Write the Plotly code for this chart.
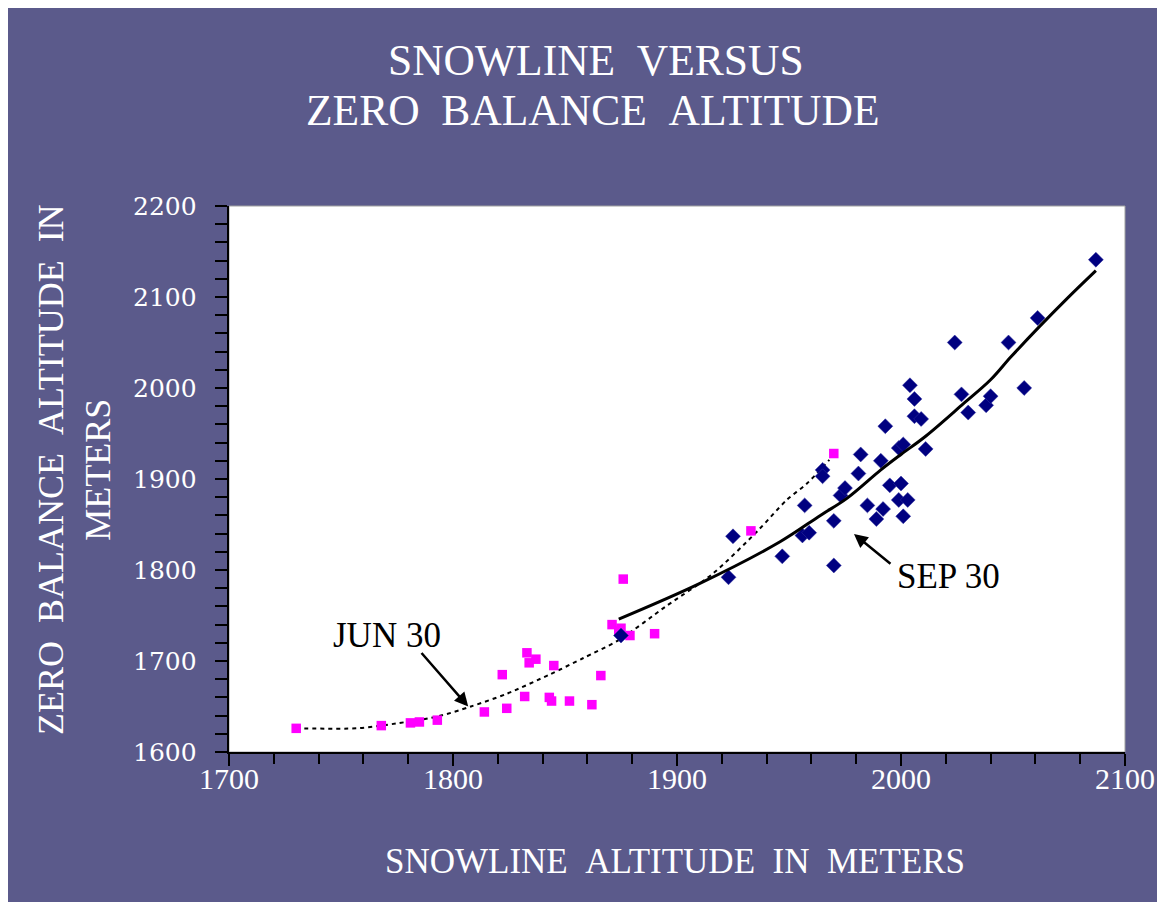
import plotly.graph_objects as go

# ---- data ----
jun_x = [1730, 1768, 1781, 1785, 1793, 1814, 1824, 1822, 1832, 1833, 1834, 1837,
         1843, 1844, 1845, 1852, 1862, 1866, 1876, 1871, 1875, 1874, 1879, 1890,
         1933, 1970]
jun_y = [1626, 1629, 1632, 1633, 1635, 1644, 1648, 1685, 1661, 1709, 1698, 1702,
         1660, 1656, 1695, 1656, 1652, 1684, 1790, 1740, 1736, 1733, 1728, 1730,
         1843, 1928]

sep_x = [1875, 1923, 1925, 1947, 1957, 1956, 1959, 1965, 1965, 1970, 1970, 1973,
         1975, 1981, 1982, 1985, 1989, 1991, 1992, 1993, 1995, 1999, 2001, 2000,
         1999, 2003, 2001, 2004, 2006, 2006, 2009, 2011, 2027, 2030, 2038, 2040,
         2055, 2087, 2061, 2024, 2048]
sep_y = [1728, 1792, 1837, 1815, 1871, 1838, 1841, 1910, 1903, 1854, 1805, 1882,
         1890, 1906, 1927, 1871, 1856, 1920, 1867, 1958, 1893, 1934, 1938, 1895,
         1877, 1877, 1859, 2003, 1988, 1969, 1966, 1933, 1993, 1973, 1981, 1991,
         2000, 2141, 2077, 2050, 2050]

jun_trend_x = [1730, 1757, 1768, 1793, 1808, 1824, 1843, 1858, 1874, 1895, 1916,
               1936, 1949, 1958, 1968]
jun_trend_y = [1626, 1626, 1629, 1639, 1650, 1664, 1685, 1703, 1723, 1760, 1796,
               1843, 1877, 1895, 1921]

sep_trend_x = [1874, 1910, 1946, 1964, 1976, 1991, 2000, 2011, 2028, 2040, 2049,
               2062, 2074, 2087]
sep_trend_y = [1746, 1785, 1831, 1860, 1879, 1910, 1927, 1947, 1983, 2009, 2034,
               2068, 2098, 2129]

title_lines = ["SNOWLINE  VERSUS", "ZERO  BALANCE  ALTITUDE"]
x_title = "SNOWLINE  ALTITUDE  IN  METERS"
y_title_lines = ["ZERO  BALANCE  ALTITUDE  IN", "METERS"]
x_ticks = [1700, 1800, 1900, 2000, 2100]
y_ticks = [1600, 1700, 1800, 1900, 2000, 2100, 2200]

BG = "#5b5a8b"
SERIF = "Liberation Serif, Times New Roman, serif"
WIDE_SERIF = "DejaVu Serif, serif"

# plot-area geometry (pixels) used to place free text in paper units
PL, PR, PT, PB = 229, 1125, 206, 752


def px(x):
    return (x - PL) / (PR - PL)


def py(y):
    return (PB - y) / (PB - PT)


def sp(s):
    return s.replace("  ", " \u00a0")


fig = go.Figure()
fig.add_trace(go.Scatter(x=jun_trend_x, y=jun_trend_y, mode="lines",
                         line=dict(color="black", width=2, dash="4px,4px",
                                   shape="spline", smoothing=0.8),
                         hoverinfo="skip"))
fig.add_trace(go.Scatter(x=jun_x, y=jun_y, mode="markers",
                         marker=dict(symbol="square", size=9.5, color="#ff00ff")))
fig.add_trace(go.Scatter(x=sep_x, y=sep_y, mode="markers",
                         marker=dict(symbol="diamond", size=11.5, color="#000080",
                                     line=dict(width=0.5, color="#3030a0"))))
fig.add_trace(go.Scatter(x=sep_trend_x, y=sep_trend_y, mode="lines",
                         line=dict(color="black", width=3, shape="spline", smoothing=1.0),
                         hoverinfo="skip"))

annotations = [
    # title
    dict(text=sp(title_lines[0]), xref="paper", yref="paper", x=px(596), y=py(60),
         showarrow=False, font=dict(family=SERIF, size=43.5, color="white"),
         xanchor="center", yanchor="middle"),
    dict(text=sp(title_lines[1]), xref="paper", yref="paper", x=px(593), y=py(110),
         showarrow=False, font=dict(family=SERIF, size=43.5, color="white"),
         xanchor="center", yanchor="middle"),
    # axis titles
    dict(text=sp(x_title), xref="paper", yref="paper", x=px(675), y=py(861),
         showarrow=False, font=dict(family=SERIF, size=35, color="white"),
         xanchor="center", yanchor="middle"),
    dict(text=sp(y_title_lines[0]) + "<br>" + y_title_lines[1], xref="paper", yref="paper",
         x=px(75), y=py(470), textangle=-90, showarrow=False,
         font=dict(family=SERIF, size=36, color="white"),
         xanchor="center", yanchor="middle"),
    # JUN 30
    dict(text="JUN 30", x=1770.5, y=1727.5, showarrow=False,
         font=dict(family=SERIF, size=35, color="black"),
         xanchor="center", yanchor="middle"),
    dict(text="", x=1806.8, y=1650, ax=-48, ay=-55, showarrow=True,
         arrowhead=2, arrowsize=1.1, arrowwidth=2.5, arrowcolor="black"),
    # SEP 30
    dict(text="SEP 30", x=2021.4, y=1793.4, showarrow=False,
         font=dict(family=SERIF, size=35, color="black"),
         xanchor="center", yanchor="middle"),
    dict(text="", x=1979, y=1839.6, ax=38, ay=31, showarrow=True,
         arrowhead=2, arrowsize=1.1, arrowwidth=2.5, arrowcolor="black"),
]

# tick labels as text placed on the axes' own scales
for v in x_ticks:
    annotations.append(dict(text=str(v), x=v, xref="x", yref="paper", y=py(778),
                            showarrow=False, xanchor="center", yanchor="middle",
                            font=dict(family=SERIF, size=30, color="white")))
for v in y_ticks:
    annotations.append(dict(text=str(v), y=v, yref="y", xref="paper", x=px(199),
                            showarrow=False, xanchor="right", yanchor="middle",
                            font=dict(family=WIDE_SERIF, size=25, color="white")))

shapes = [
    dict(type="rect", xref="paper", yref="paper", x0=0, x1=1, y0=0, y1=1,
         line=dict(color="#a0a0a0", width=1), layer="below"),
]

fig.update_layout(
    width=1185, height=922,
    margin=dict(l=221, r=68, t=198, b=178),
    paper_bgcolor=BG, plot_bgcolor="white",
    showlegend=False,
    annotations=annotations,
    shapes=shapes,
    xaxis=dict(range=[1700, 2100], tickvals=x_ticks, showticklabels=False,
               showgrid=False, zeroline=False, showline=True, linecolor="black", linewidth=2,
               ticks="outside", ticklen=12, tickwidth=2, tickcolor="black",
               minor=dict(dtick=20, ticks="outside", ticklen=10, tickwidth=1.5,
                          tickcolor="black", showgrid=False)),
    yaxis=dict(range=[1600, 2200], tickvals=y_ticks, showticklabels=False,
               showgrid=False, zeroline=False, showline=True, linecolor="black", linewidth=2,
               ticks="outside", ticklen=12, tickwidth=2, tickcolor="black",
               minor=dict(dtick=20, ticks="outside", ticklen=12, tickwidth=1.5,
                          tickcolor="black", showgrid=False)),
)

fig.write_html("out.html")
